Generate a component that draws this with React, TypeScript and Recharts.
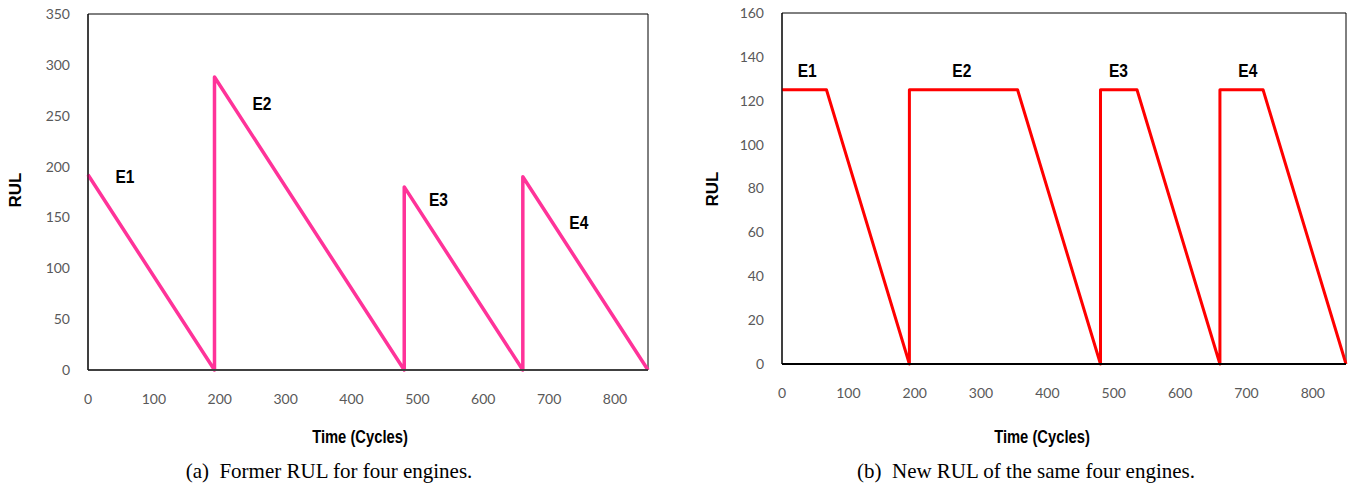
import React from 'react';
import { LineChart, Line, XAxis, YAxis, ReferenceArea, ReferenceDot } from 'recharts';

// Former RUL (piecewise linear, with jumps at engine change)
const formerX = [0, 192, 192, 480, 480, 660, 660, 850];
const formerY = [192, 0, 288, 0, 180, 0, 190, 0];
// New RUL (capped at 125)
const newX = [0, 67, 192, 192, 355, 480, 480, 535, 660, 660, 725, 850];
const newY = [125, 125, 0, 125, 125, 0, 125, 125, 0, 125, 125, 0];

const xTicks = [0, 100, 200, 300, 400, 500, 600, 700, 800];
const leftYTicks = [0, 50, 100, 150, 200, 250, 300, 350];
const rightYTicks = [0, 20, 40, 60, 80, 100, 120, 140, 160];

const engineNames = ['E1', 'E2', 'E3', 'E4'];
const leftLabelX = [56, 264, 532, 745];
const leftLabelY = [190, 262, 168, 145];
const rightLabelX = [38, 271, 507, 702];
const rightLabelY = [134, 134, 134, 134];

const formerData = formerX.map((x, i) => ({ x, y: formerY[i] }));
const newData = newX.map((x, i) => ({ x, y: newY[i] }));

const tickStyle = { fill: '#595959', fontSize: 14, fontFamily: 'Lato, sans-serif' };

const EngineLabel = (props: any) => {
  const { viewBox, value } = props;
  const cx = viewBox.x + (viewBox.width || 0) / 2;
  const cy = viewBox.y + (viewBox.height || 0) / 2;
  return (
    <text
      x={0}
      y={0}
      transform={`translate(${cx},${cy}) scale(0.82,1)`}
      textAnchor="middle"
      dominantBaseline="central"
      fontFamily="'Liberation Sans', Arial, sans-serif"
      fontWeight="bold"
      fontSize={19}
      fill="#000"
    >
      {value}
    </text>
  );
};

const narrowTitle: React.CSSProperties = {
  position: 'absolute',
  fontFamily: "'Liberation Sans', Arial, sans-serif",
  fontWeight: 'bold',
  fontSize: 18,
  color: '#000',
  whiteSpace: 'nowrap',
  transform: 'translate(-50%, -50%) scaleX(0.82)',
};

const rulStyle: React.CSSProperties = {
  position: 'absolute',
  fontFamily: "'Liberation Sans', Arial, sans-serif",
  fontWeight: 'bold',
  fontSize: 17,
  color: '#000',
  whiteSpace: 'nowrap',
  transform: 'translate(-50%, -50%) rotate(-90deg)',
};

const captionStyle: React.CSSProperties = {
  position: 'absolute',
  fontFamily: "'Liberation Serif', 'Times New Roman', serif",
  fontSize: 21,
  color: '#000',
  whiteSpace: 'pre',
  transform: 'translate(-50%, -50%)',
};

export default function App() {
  return (
    <div style={{ position: 'absolute', left: 0, top: 0, width: 1356, height: 491, background: '#fff', overflow: 'hidden' }}>
      <div style={{ position: 'absolute', left: 0, top: 0 }}>
        <LineChart width={680} height={420} data={formerData} margin={{ top: 14, right: 32, left: 30, bottom: 20 }}>
          <XAxis
            dataKey="x"
            type="number"
            domain={[0, 850]}
            ticks={xTicks}
            tick={tickStyle}
            tickLine={false}
            tickMargin={18}
            height={30}
            axisLine={{ stroke: '#404040', strokeWidth: 2 }}
          />
          <YAxis
            type="number"
            domain={[0, 350]}
            ticks={leftYTicks}
            tick={tickStyle}
            tickLine={false}
            tickMargin={12}
            width={58}
            axisLine={{ stroke: '#000', strokeWidth: 1 }}
          />
          <ReferenceArea x1={0} x2={850} y1={0} y2={350} fill="none" stroke="#000" strokeWidth={1} ifOverflow="visible" />
          <Line
            dataKey="y"
            stroke="#FF3399"
            strokeWidth={3.5}
            dot={false}
            isAnimationActive={false}
            strokeLinejoin="round"
          />
          {engineNames.map((n, i) => (
            <ReferenceDot key={n} x={leftLabelX[i]} y={leftLabelY[i]} r={0} stroke="none" fill="none" label={<EngineLabel value={n} />} />
          ))}
        </LineChart>
      </div>
      <div style={{ position: 'absolute', left: 678, top: 0 }}>
        <LineChart width={678} height={420} data={newData} margin={{ top: 13, right: 10, left: 32, bottom: 26 }}>
          <XAxis
            dataKey="x"
            type="number"
            domain={[0, 850]}
            ticks={xTicks}
            tick={tickStyle}
            tickLine={false}
            tickMargin={18}
            height={30}
            axisLine={{ stroke: '#000', strokeWidth: 2 }}
          />
          <YAxis
            type="number"
            domain={[0, 160]}
            ticks={rightYTicks}
            tick={tickStyle}
            tickLine={false}
            tickMargin={12}
            width={72}
            axisLine={{ stroke: '#000', strokeWidth: 1 }}
          />
          <ReferenceArea x1={0} x2={850} y1={0} y2={160} fill="none" stroke="#000" strokeWidth={1} ifOverflow="visible" />
          <Line
            dataKey="y"
            stroke="#FF0000"
            strokeWidth={3}
            dot={false}
            isAnimationActive={false}
            strokeLinejoin="round"
          />
          {engineNames.map((n, i) => (
            <ReferenceDot key={n} x={rightLabelX[i]} y={rightLabelY[i]} r={0} stroke="none" fill="none" label={<EngineLabel value={n} />} />
          ))}
        </LineChart>
      </div>
      <div style={{ ...narrowTitle, left: 360, top: 437 }}>Time (Cycles)</div>
      <div style={{ ...narrowTitle, left: 1042, top: 437 }}>Time (Cycles)</div>
      <div style={{ ...rulStyle, left: 16, top: 190 }}>RUL</div>
      <div style={{ ...rulStyle, left: 713, top: 189 }}>RUL</div>
      <div style={{ ...captionStyle, left: 329, top: 471 }}>{'(a)  Former RUL for four engines.'}</div>
      <div style={{ ...captionStyle, left: 1026, top: 471 }}>{'(b)  New RUL of the same four engines.'}</div>
    </div>
  );
}
